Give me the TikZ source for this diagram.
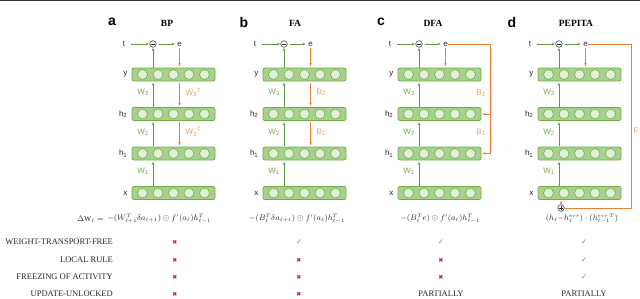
\documentclass[tikz,border=0pt]{standalone}
\usepackage{fontspec}
\setmainfont{Liberation Serif}
\newfontfamily\lsans{Liberation Sans}
\newfontfamily\dejavu{DejaVu Sans}
\usetikzlibrary{arrows.meta}
\definecolor{gfill}{HTML}{A9D18E}
\definecolor{gdark}{HTML}{70AD47}
\definecolor{cfill}{HTML}{E2F0D9}
\definecolor{garrow}{HTML}{5E9A3C}
\definecolor{orng}{HTML}{ED7D31}
\definecolor{olabc}{HTML}{F29B5E}
\definecolor{crossred}{HTML}{D42020}
\definecolor{checkgreen}{HTML}{6AA84F}
\tikzset{
  layer/.style={draw=gdark, fill=gfill, rounded corners=2pt, minimum width=83pt, minimum height=13pt, line width=0.8pt, inner sep=0pt},
  neuron/.style={circle, draw=gdark, fill=cfill, minimum size=10pt, inner sep=0pt, line width=0.6pt},
  garr/.style={-{Stealth[length=3pt,width=2.6pt]}, draw=garrow, line width=0.6pt},
  oarr/.style={-{Stealth[length=3pt,width=2.6pt]}, draw=orng, line width=0.6pt},
  oline/.style={draw=orng, line width=0.6pt},
  lab/.style={font=\lsans\fontsize{8}{9}\selectfont, text=black!85, inner sep=0.5pt},
  wlab/.style={lab, text=gdark},
  olab/.style={lab, text=olabc},
  opcirc/.style={circle, draw=black!85, minimum size=6.6pt, inner sep=0pt, line width=0.5pt},
  panellab/.style={font=\lsans\bfseries\fontsize{14}{16}\selectfont, inner sep=0pt},
  title/.style={font=\bfseries\fontsize{9.5}{11}\selectfont, inner sep=0pt},
  rowlab/.style={font=\fontsize{8.5}{10}\selectfont, anchor=east, inner sep=0pt, text=black!85},
  formula/.style={font=\fontsize{7.6}{9}\selectfont, inner sep=0pt, text=black!85},
  xmark/.style={font=\dejavu\fontsize{6}{7}\selectfont, text=crossred, inner sep=0pt},
  cmark/.style={font=\dejavu\fontsize{7.5}{8}\selectfont, text=checkgreen, inner sep=0pt},
  ptext/.style={font=\fontsize{8.5}{10}\selectfont, inner sep=0pt, text=black!85}
}
\begin{document}
\begin{tikzpicture}[x=1pt,y=-1pt]
\useasboundingbox (0,0) rectangle (640,298);
\fill[black!80] (0,0) rectangle (640,1.2);
\foreach \p/\X/\L/\T/\tx in {a/132/112/BP/167, b/263/244/FA/295, c/398/381/DFA/433, d/538/512/PEPITA/576} {
  \node[panellab] (\p-pl) at (\L,22) {\p};
  \node[title] (\p-title) at (\tx,23) {\T};
  \foreach \n/\Y/\txt in {y/74.5/y, h2/114/h\textsubscript{2}, h1/153.5/h\textsubscript{1}, x/193/x} {
    \node[layer] (\p-\n) at (\X+41.5,\Y) {};
    \foreach \k/\dx in {1/10.5,2/26,3/41.5,4/57,5/72.5}
      \node[neuron] (\p-\n-\k) at (\X+\dx,\Y) {};
    \node[lab, anchor=east] (\p-\n-l) at (\X-4,\Y) {\txt};
  }
  \node[lab] (\p-t) at (\X-8,44) {t};
  \node[opcirc] (\p-m) at (\X+21,44) {};
  \draw[black!85, line width=0.5pt] ([xshift=-1.6pt]\p-m.center) -- ([xshift=1.6pt]\p-m.center);
  \node[lab] (\p-e) at (\X+47.5,44) {e};
  \draw[garr, shorten <=5pt, shorten >=0.5pt] (\p-t) -- (\p-m);
  \draw[garr, shorten <=2pt, shorten >=2pt] (\p-m) -- (\p-e);
  \draw[garr, shorten >=0.5pt] (\p-y.north -| \p-m) -- (\p-m.south);
  \draw[garr, shorten <=0.5pt, shorten >=1.5pt] (\p-h2.north -| \p-m) -- (\p-y.south -| \p-m);
  \draw[garr, shorten <=0.5pt, shorten >=1.5pt] (\p-h1.north -| \p-m) -- (\p-h2.south -| \p-m);
  \draw[garr, shorten <=0.5pt, shorten >=1.5pt] (\p-x.north -| \p-m) -- (\p-h1.south -| \p-m);
  \draw[oarr, shorten <=1pt, shorten >=1.5pt] (\p-e.south) -- (\p-y.north -| \p-e);
  \node[wlab] (\p-w3) at (\X+11,92.5) {W\textsubscript{3}};
  \node[wlab] (\p-w2) at (\X+11,132) {W\textsubscript{2}};
  \node[wlab] (\p-w1) at (\X+11,171.5) {W\textsubscript{1}};
}
% panels a and b: backward arrows between layers
\foreach \p in {a,b} {
  \draw[oarr, shorten <=1.5pt, shorten >=1.5pt] (\p-y.south -| \p-e) -- (\p-h2.north -| \p-e);
  \draw[oarr, shorten <=1.5pt, shorten >=1.5pt] (\p-h2.south -| \p-e) -- (\p-h1.north -| \p-e);
}
\node[olab, anchor=west] (a-w3t) at (185,92.5) {W\textsubscript{3}\textsuperscript{T}};
\node[olab, anchor=west] (a-w2t) at (185,132) {W\textsubscript{2}\textsuperscript{T}};
\node[olab, anchor=west] (b-b2) at (316,92.5) {B\textsubscript{2}};
\node[olab, anchor=west] (b-b1) at (316,132) {B\textsubscript{1}};
% panel c: direct feedback
\coordinate (c-cr) at (490,44);
\coordinate (c-cb) at (490,153.5);
\draw[oline] (c-e.east) -- (c-cr) -- (c-cb);
\draw[oarr, shorten >=1pt] (c-cb) -- (c-h1.east);
\draw[oarr, shorten >=1pt] (c-h2.east -| c-cr) -- (c-h2.east);
\node[olab] (c-b2) at (481,93) {B\textsubscript{2}};
\node[olab] (c-b1) at (481,132.5) {B\textsubscript{1}};
% panel d: PEPITA
\node[opcirc] (d-plus) at (561,208) {};
\draw[black!85, line width=0.5pt] ([xshift=-1.6pt]d-plus.center) -- ([xshift=1.6pt]d-plus.center)
  ([yshift=-1.6pt]d-plus.center) -- ([yshift=1.6pt]d-plus.center);
\coordinate (d-cr) at (631,44);
\coordinate (d-cb) at (631,208);
\draw[oline] (d-e.east) -- (d-cr) -- (d-cb) -- (d-plus.east);
\draw[oarr, shorten >=1pt] (d-plus.north) -- (d-x.south -| d-plus);
\node[olab] (d-f) at (636,131) {F};
% formulas
\node[formula, anchor=east] (dw) at (104,219) {$\Delta\mathrm{W}_\ell =$};
\node[formula, anchor=west] (fa) at (107,219) {$-(W_{\ell+1}^T\delta a_{\ell+1})\odot f'(a_\ell)h_{\ell-1}^T$};
\node[formula] (fb) at (297,219) {$-(B_{\ell}^T\delta a_{\ell+1})\odot f'(a_\ell)h_{\ell-1}^T$};
\node[formula] (fc) at (440,219) {$-(B_{\ell}^T e)\odot f'(a_\ell)h_{\ell-1}^T$};
\node[formula] (fd) at (582,219) {$(h_\ell{-}h_\ell^{err})\cdot(h_{\ell-1}^{err\,T})$};
% table rows
\node[rowlab] (r1) at (113,242) {WEIGHT-TRANSPORT-FREE};
\node[rowlab] (r2) at (113,260) {LOCAL RULE};
\node[rowlab] (r3) at (113,277) {FREEZING OF ACTIVITY};
\node[rowlab] (r4) at (113,294) {UPDATE-UNLOCKED};
% column a
\node[xmark] (ma1) at (175,242) {✖};
\node[xmark] (ma2) at (175,260) {✖};
\node[xmark] (ma3) at (175,277) {✖};
\node[xmark] (ma4) at (175,294) {✖};
% column b
\node[cmark] (mb1) at (299,242) {✓};
\node[xmark] (mb2) at (299,260) {✖};
\node[xmark] (mb3) at (299,277) {✖};
\node[xmark] (mb4) at (299,294) {✖};
% column c
\node[cmark] (mc1) at (441,242) {✓};
\node[xmark] (mc2) at (441,260) {✖};
\node[xmark] (mc3) at (441,277) {✖};
\node[ptext] (mc4) at (441,294) {PARTIALLY};
% column d
\node[cmark] (md1) at (584,242) {✓};
\node[cmark] (md2) at (584,260) {✓};
\node[cmark] (md3) at (584,277) {✓};
\node[ptext] (md4) at (584,294) {PARTIALLY};
\end{tikzpicture}
\end{document}
